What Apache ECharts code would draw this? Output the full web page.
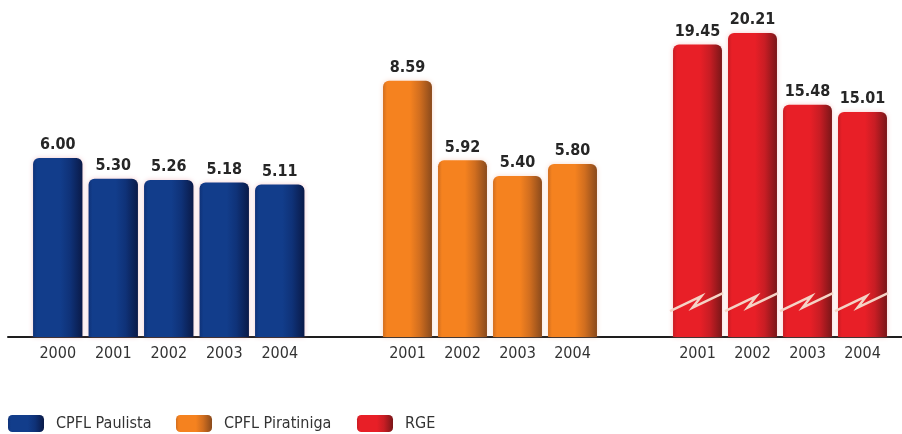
<!DOCTYPE html>
<html>
<head>
<meta charset="utf-8">
<script src="https://cdn.jsdelivr.net/npm/echarts@6/dist/echarts.min.js"></script>
<style>
  html, body { margin: 0; padding: 0; background: #ffffff; }
  #chart { width: 902px; height: 434px; }
</style>
</head>
<body>
<div id="chart"></div>
<script>
// Years per company
const paulistaYears = ['2000', '2001', '2002', '2003', '2004'];
const piratinigaYears = ['2001', '2002', '2003', '2004'];
const rgeYears = ['2001', '2002', '2003', '2004'];

// Values per company
const paulistaValues = [6.00, 5.30, 5.26, 5.18, 5.11];
const piratinigaValues = [8.59, 5.92, 5.40, 5.80];
const rgeValues = [19.45, 20.21, 15.48, 15.01];

// RGE axis is broken near its base; marks are drawn at this value
const rgeBreakValue = 2.5;

const FONT = "'Liberation Sans Narrow', 'DejaVu Sans Condensed', sans-serif";

function barGradient(light, mid, dark) {
  return new echarts.graphic.LinearGradient(0, 0, 1, 0, [
    { offset: 0, color: mid },
    { offset: 0.08, color: light },
    { offset: 0.55, color: light },
    { offset: 0.75, color: mid },
    { offset: 1, color: dark }
  ]);
}

const blueFill = barGradient('#123d8b', '#0f3278', '#0a1a48');
const orangeFill = barGradient('#f5821f', '#d16e1f', '#8a4a1c');
const redFill = barGradient('#e81f27', '#c81d24', '#7a1618');

const GRID_TOP = 27;
const GRID_BOTTOM = 97;

const valueLabel = {
  show: true,
  position: 'top',
  distance: 5,
  fontFamily: FONT,
  fontWeight: 'bold',
  fontSize: 16,
  color: '#262626',
  formatter: p => p.value.toFixed(2)
};

function catAxis(gridIndex, data) {
  return {
    type: 'category',
    gridIndex,
    data,
    axisLine: { show: false },
    axisTick: { show: false },
    axisLabel: { interval: 0, fontFamily: FONT, fontSize: 16, color: '#333333', margin: 9 }
  };
}

function valAxis(gridIndex, min, max) {
  return {
    type: 'value', gridIndex, min, max, show: false,
    splitLine: { show: false }
  };
}

function barSeries(name, idx, values, fill, shadow) {
  return {
    name,
    type: 'bar',
    xAxisIndex: idx,
    yAxisIndex: idx,
    data: values,
    barWidth: '89%',
    itemStyle: {
      color: fill,
      borderRadius: [6, 6, 0, 0],
      shadowBlur: 5,
      shadowColor: shadow
    },
    label: valueLabel,
    z: 2
  };
}

const chart = echarts.init(document.getElementById('chart'), null, { renderer: 'canvas' });

const legendBase = {
  top: 415,
  padding: 0,
  itemWidth: 36,
  itemHeight: 17,
  icon: 'roundRect',
  textStyle: { fontFamily: FONT, fontSize: 16, color: '#333333', padding: [0, 0, 0, 7] },
  selectedMode: false
};

chart.setOption({
  backgroundColor: '#ffffff',
  animation: false,
  legend: [
    Object.assign({}, legendBase, { left: 8, data: ['CPFL Paulista'] }),
    Object.assign({}, legendBase, { left: 176, data: ['CPFL Piratiniga'] }),
    Object.assign({}, legendBase, { left: 357, data: ['RGE'] })
  ],
  grid: [
    { left: 30, width: 277.5, top: GRID_TOP, bottom: GRID_BOTTOM },
    { left: 380, width: 220, top: GRID_TOP, bottom: GRID_BOTTOM },
    { left: 670, width: 220, top: GRID_TOP, bottom: GRID_BOTTOM },
    // shared baseline under all three groups
    { left: 8, right: 0, top: GRID_TOP, bottom: GRID_BOTTOM }
  ],
  xAxis: [
    catAxis(0, paulistaYears),
    catAxis(1, piratinigaYears),
    catAxis(2, rgeYears),
    {
      type: 'value', gridIndex: 3, min: 0, max: 1,
      axisLine: { show: true, onZero: false, lineStyle: { color: '#1e1e1e', width: 2 } },
      axisTick: { show: false }, axisLabel: { show: false }, splitLine: { show: false }
    }
  ],
  yAxis: [
    valAxis(0, 0, 10.39),
    valAxis(1, 0, 10.39),
    valAxis(2, 0.2, 20.6),
    valAxis(3, 0, 1)
  ],
  series: [
    barSeries('CPFL Paulista', 0, paulistaValues, blueFill, 'rgba(230,140,150,0.45)'),
    barSeries('CPFL Piratiniga', 1, piratinigaValues, orangeFill, 'rgba(240,170,140,0.45)'),
    barSeries('RGE', 2, rgeValues, redFill, 'rgba(240,140,140,0.45)'),
    {
      // axis-break marks across the RGE bars
      type: 'custom',
      xAxisIndex: 2,
      yAxisIndex: 2,
      data: rgeYears.map(y => [y, rgeBreakValue]),
      encode: { x: 0, y: 1 },
      z: 5,
      silent: true,
      renderItem: (params, api) => {
        const c = api.coord([api.value(0), api.value(1)]);
        const w = api.size([1, 0])[0] * 0.89;
        const x0 = c[0] - w / 2;
        const y = c[1];
        return {
          type: 'polyline',
          shape: {
            points: [
              [x0 - 3, y + 9],
              [x0 + 0.58 * w, y - 6],
              [x0 + 0.40 * w, y + 5.5],
              [x0 + w + 1, y - 9]
            ]
          },
          style: { stroke: '#f4d3c6', lineWidth: 2.5, fill: null, lineJoin: 'miter' }
        };
      }
    }
  ]
});
</script>
</body>
</html>
